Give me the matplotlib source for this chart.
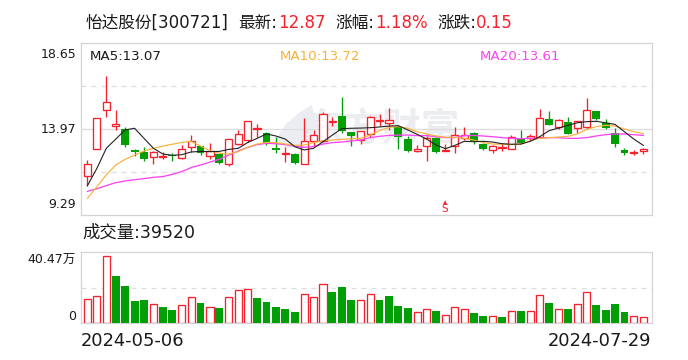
import numpy as np
import matplotlib
matplotlib.use("Agg")
import matplotlib.pyplot as plt
from matplotlib.patches import Polygon

plt.rcParams["font.family"] = ["DejaVu Sans", "Noto Sans CJK SC"]

RED = "#f5222d"
GREEN = "#009f06"
FRAME = "#d4d4d8"
GRID = "#dedede"
ORANGE = "#f7b23b"
MAGENTA = "#fa45f5"
TEXT = "#1a1a1a"
WATERMARK = "#ecedf0"

W, H = 688, 360

# daily candles, 2024-05-06 .. 2024-07-29
opens = [11.39, 12.86, 14.99, 14.13, 13.95, 12.83, 12.72, 12.43, 12.45, 12.54,
         12.37, 13.01, 13.04, 12.48, 12.61, 12.06, 13.17, 13.35, 13.99, 13.73,
         12.94, 12.59, 12.61, 12.08, 13.33, 13.32, 14.33, 14.68, 13.81, 13.35,
         13.68, 14.39, 14.31, 14.06, 13.43, 12.75, 13.03, 13.50, 12.75, 13.03,
         13.48, 13.75, 13.15, 12.81, 12.95, 12.90, 13.44, 13.46, 13.55, 14.50,
         14.10, 14.35, 14.04, 14.10, 14.95, 14.31, 13.73, 12.81, 12.68, 12.75]
closes = [12.05, 14.55, 15.42, 14.22, 13.10, 12.74, 12.36, 12.70, 12.50, 12.48,
          12.86, 13.30, 12.68, 12.75, 12.12, 13.41, 13.68, 14.39, 14.02, 13.19,
          12.85, 12.65, 12.12, 13.30, 13.62, 14.77, 14.40, 13.88, 13.59, 13.84,
          14.60, 14.46, 14.46, 13.55, 12.79, 12.88, 13.46, 12.74, 12.81, 13.66,
          13.66, 13.33, 12.90, 13.03, 12.99, 13.55, 13.19, 13.57, 14.55, 14.21,
          14.44, 13.72, 14.39, 14.99, 14.51, 14.04, 13.17, 12.66, 12.70, 12.86]
highs = [12.28, 14.55, 16.85, 15.00, 14.08, 12.90, 12.97, 12.79, 12.74, 12.65,
         13.10, 13.64, 13.04, 13.21, 12.68, 13.41, 13.92, 14.39, 14.24, 13.79,
         13.55, 12.99, 12.68, 14.57, 13.93, 14.89, 14.62, 15.71, 13.81, 13.84,
         14.68, 14.79, 15.11, 14.17, 13.59, 13.10, 13.59, 13.55, 13.15, 14.08,
         14.08, 13.81, 13.23, 13.10, 13.19, 13.64, 13.92, 13.70, 15.06, 14.95,
         14.51, 14.60, 14.39, 15.66, 14.95, 14.50, 14.02, 12.94, 12.81, 12.95]
lows = [10.89, 12.86, 14.62, 13.92, 13.01, 12.50, 12.25, 12.08, 12.34, 12.25,
        12.35, 12.74, 12.54, 12.32, 12.06, 11.96, 13.08, 13.28, 13.55, 13.10,
        12.68, 12.17, 12.06, 12.08, 13.04, 13.24, 14.13, 13.77, 13.04, 13.15,
        13.55, 14.13, 13.92, 12.88, 12.74, 12.74, 12.25, 12.68, 12.75, 12.68,
        13.37, 13.17, 12.85, 12.68, 12.79, 12.88, 13.15, 13.33, 13.55, 14.21,
        13.95, 13.72, 13.73, 13.95, 14.46, 13.99, 13.01, 12.55, 12.55, 12.61]

ma5 = [10.89, 11.83, 12.92, 13.42, 13.92, 14.01, 13.46, 12.92, 12.61, 12.54,
       12.57, 12.72, 12.75, 12.74, 12.75, 12.86, 12.92, 13.23, 13.46, 13.70,
       13.59, 13.42, 13.01, 12.83, 12.92, 13.28, 13.64, 13.99, 14.01, 14.02,
       14.04, 14.08, 14.13, 14.15, 13.92, 13.68, 13.42, 13.10, 12.90, 13.08,
       13.30, 13.28, 13.30, 13.26, 13.17, 13.14, 13.15, 13.30, 13.55, 13.88,
       14.02, 14.17, 14.31, 14.37, 14.39, 14.31, 14.22, 13.82, 13.42, 13.08]
ma10 = [10.20, 10.83, 11.47, 12.01, 12.32, 12.55, 12.77, 12.92, 13.04, 13.14,
        13.24, 13.30, 13.04, 12.79, 12.65, 12.61, 12.74, 12.97, 13.15, 13.24,
        13.23, 13.15, 13.08, 13.10, 13.23, 13.33, 13.37, 13.41, 13.44, 13.46,
        13.64, 13.88, 14.06, 14.10, 14.01, 13.82, 13.70, 13.59, 13.52, 13.52,
        13.46, 13.37, 13.23, 13.15, 13.14, 13.12, 13.15, 13.32, 13.46, 13.50,
        13.53, 13.57, 13.70, 13.95, 14.10, 14.17, 14.13, 13.97, 13.82, 13.72]
ma20 = [10.58, 10.72, 10.89, 11.05, 11.14, 11.21, 11.27, 11.34, 11.38, 11.50,
        11.65, 11.87, 12.01, 12.17, 12.32, 12.55, 12.77, 12.97, 13.12, 13.19,
        13.17, 13.12, 13.04, 12.97, 13.01, 13.15, 13.23, 13.26, 13.32, 13.37,
        13.50, 13.57, 13.62, 13.64, 13.64, 13.61, 13.61, 13.55, 13.50, 13.50,
        13.61, 13.62, 13.59, 13.55, 13.50, 13.46, 13.44, 13.46, 13.46, 13.50,
        13.50, 13.46, 13.46, 13.50, 13.59, 13.66, 13.70, 13.70, 13.66, 13.62]

# volume in units of 10k shares
volumes = [14.3, 16.6, 40.47, 28.3, 22.3, 13.3, 13.9, 11.3, 9.7, 7.8,
           10.7, 16.1, 12.1, 9.5, 9.1, 16.1, 20.3, 20.9, 15.1, 12.7,
           9.7, 8.5, 6.6, 17.9, 16.1, 24.0, 18.7, 21.7, 13.9, 13.7,
           17.9, 13.9, 16.3, 10.3, 9.1, 6.4, 8.3, 7.2, 4.6, 9.5,
           8.3, 6.0, 4.2, 4.0, 3.6, 7.0, 7.2, 7.0, 17.3, 12.1,
           8.3, 8.5, 11.3, 19.1, 10.9, 7.8, 11.5, 6.6, 4.0, 3.95]
vol_up = [1, 1, 1, 0, 0, 0, 0, 1, 0, 0,
          1, 1, 0, 1, 0, 1, 1, 1, 0, 0,
          0, 0, 0, 1, 1, 1, 0, 0, 0, 1,
          1, 0, 0, 0, 0, 1, 1, 0, 1, 1,
          1, 0, 0, 1, 0, 1, 0, 1, 1, 0,
          1, 0, 1, 1, 0, 0, 0, 0, 1, 1]

price_ticks = ["18.65", "13.97", "9.29"]
vol_ticks = ["40.47万", "0"]
dates = ["2024-05-06", "2024-07-29"]


def panel(fig, left, top, right, bottom):
    """Axes from pixel edges measured on the image."""
    ax = fig.add_axes([left / W, 1 - bottom / H, (right - left) / W, (bottom - top) / H])
    ax.set_xticks([])
    ax.set_yticks([])
    for spine in ax.spines.values():
        spine.set_color(FRAME)
        spine.set_linewidth(0.9)
    ax.set_xlim(-0.74, 59.87)
    return ax


def label(fig, x, y, s, **kw):
    kw.setdefault("color", TEXT)
    kw.setdefault("va", "center")
    fig.text(x / W, 1 - y / H, s, **kw)


fig = plt.figure(figsize=(W / 100, H / 100), dpi=100)

# ---- price panel
ax = panel(fig, 80.5, 43, 651.5, 215)
ax.set_ylim(9.29, 18.65)
mid = (9.29 + 18.65) / 2
ax.axhline(mid, color=GRID, lw=1.0, zorder=1)
for q in [mid + 2.34, mid - 2.34]:
    ax.axhline(q, color=GRID, lw=0.9, ls=(0, (4, 4)), zorder=1)

# watermark
ax.text(0.528, 0.49, "东方财富", transform=ax.transAxes, fontsize=28, fontweight="bold",
        color=WATERMARK, ha="center", va="center", zorder=0)
ax.add_patch(Polygon([[0.342, 0.44], [0.36, 0.53], [0.385, 0.60], [0.405, 0.64],
                      [0.412, 0.55], [0.405, 0.46], [0.385, 0.39], [0.36, 0.39]],
                     transform=ax.transAxes, fc=WATERMARK, ec="none", zorder=0))

x = np.arange(len(opens))
for i in x:
    o, c, h, l = opens[i], closes[i], highs[i], lows[i]
    col = RED if c >= o else GREEN
    if c >= o:
        ax.vlines(i, c, h, color=col, lw=0.95, zorder=3)
        ax.vlines(i, l, o, color=col, lw=0.95, zorder=3)
        ax.bar(i, c - o, 0.76, o, fc="white", ec=col, lw=0.95, zorder=3)
    else:
        ax.vlines(i, l, h, color=col, lw=0.95, zorder=3)
        ax.bar(i, o - c, 0.84, c, fc=col, ec="none", zorder=3)

ax.plot(x, ma20, color=MAGENTA, lw=0.95, zorder=4)
ax.plot(x, ma10, color=ORANGE, lw=0.85, zorder=5)
ax.plot(x, ma5, color="#222222", lw=0.8, zorder=6)

# sell marker
label(fig, 445, 209, "S", color=RED, fontsize=7.5, ha="center")
label(fig, 445, 203, "▲", color=RED, fontsize=4, ha="center")

# ---- volume panel
ax2 = panel(fig, 80.5, 252, 651.5, 323)
ax2.set_ylim(0, 43.2)
ax2.axhline(21.6, color=GRID, lw=0.9, ls=(0, (4, 4)), zorder=1)
for i, v in zip(x, volumes):
    if vol_up[i]:
        ax2.bar(i, v, 0.76, fc="white", ec=RED, lw=0.95, zorder=3)
    else:
        ax2.bar(i, v, 0.84, fc=GREEN, ec="none", zorder=3)

# ---- text
label(fig, 86, 23, "怡达股份[300721]", fontsize=12)
label(fig, 238, 23, "最新:", fontsize=12)
label(fig, 278, 23, "12.87", fontsize=12, color=RED)
label(fig, 335, 23, "涨幅:", fontsize=12)
label(fig, 375, 23, "1.18%", fontsize=12, color=RED)
label(fig, 437, 23, "涨跌:", fontsize=12)
label(fig, 476, 23, "0.15", fontsize=12, color=RED)

label(fig, 90, 56, "MA5:13.07", fontsize=9.6)
label(fig, 280, 56, "MA10:13.72", fontsize=9.6, color=ORANGE)
label(fig, 480, 56, "MA20:13.61", fontsize=9.6, color=MAGENTA)

for y, s in zip([54, 129, 205], price_ticks):
    label(fig, 76, y, s, fontsize=9, ha="right")
for y, s in zip([260, 316], vol_ticks):
    label(fig, 76, y, s, fontsize=9, ha="right")

label(fig, 82, 233, "成交量:39520", fontsize=12.5)
label(fig, 81, 341, dates[0], fontsize=12.9)
label(fig, 651, 341, dates[1], fontsize=12.9, ha="right")

fig.savefig("out.png", dpi=100, facecolor="white")
